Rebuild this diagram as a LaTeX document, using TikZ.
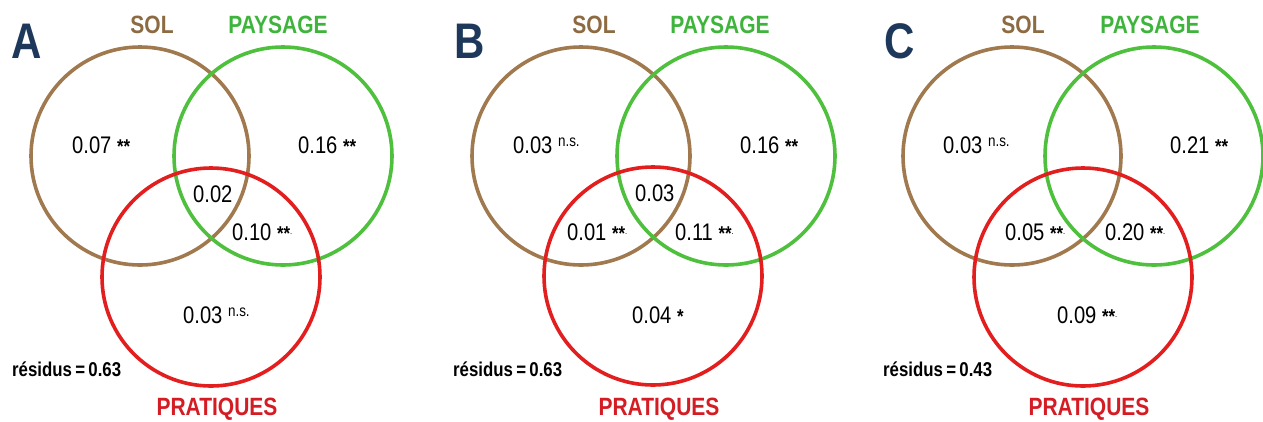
\documentclass[tikz,border=0pt]{standalone}
\usepackage{fontspec}
\newfontfamily\narrowsf[FakeStretch=0.84]{Liberation Sans}
\usetikzlibrary{positioning}
\definecolor{solbrown}{RGB}{160,122,78}
\definecolor{soltext}{RGB}{140,106,66}
\definecolor{paygreen}{RGB}{78,192,62}
\definecolor{paytext}{RGB}{62,180,60}
\definecolor{prared}{RGB}{226,30,30}
\definecolor{pratext}{RGB}{212,28,36}
\definecolor{navy}{RGB}{30,56,92}
\tikzset{
    set circle/.style={circle, draw, line width=3.6pt, minimum size=218pt, inner sep=0pt},
    set label/.style={font=\narrowsf\bfseries\fontsize{25}{25}\selectfont, anchor=base, inner sep=0pt},
    panel letter/.style={font=\narrowsf\bfseries\fontsize{50}{50}\selectfont, text=navy, anchor=base, inner sep=0pt},
    part value/.style={font=\narrowsf\fontsize{24}{24}\selectfont, anchor=base west, inner sep=0pt},
    residual/.style={font=\narrowsf\bfseries\fontsize{20}{20}\selectfont, anchor=base west, inner sep=0pt},
}
\newcommand{\stars}[1]{{\fontsize{20}{20}\selectfont\bfseries #1}}
\newcommand{\dotmark}{\raisebox{6pt}{\fontsize{9}{9}\selectfont .}}
\newcommand{\nsig}{\raisebox{7pt}{\fontsize{16}{16}\selectfont n.s.}}
\newcommand{\drawsets}{
    \foreach \p/\sx/\px/\rx/\ry in {A/140/283/211/277, B/581/726/653/276, C/1012/1154/1083/277} {
        \node[set circle, draw=solbrown] (sol\p) at (\sx,156) {};
        \node[set circle, draw=paygreen] (pay\p) at (\px,156) {};
        \node[set circle, draw=prared] (pra\p) at (\rx,\ry) {};
    }
}
\newcommand{\drawsetlabels}{
    \foreach \p/\lx/\slx/\plx/\qx in {A/27/152/278/217, B/470/594/720/659, C/900/1023/1150/1089} {
        \node[panel letter] (letter\p) at (\lx,58) {\p};
        \node[set label, text=soltext] (lsol\p) at (\slx,33) {SOL};
        \node[set label, text=paytext] (lpay\p) at (\plx,33) {PAYSAGE};
        \node[set label, text=pratext] (lpra\p) at (\qx,415) {PRATIQUES};
    }
}

\begin{document}
\begin{tikzpicture}[x=1pt, y=-1pt]
    \useasboundingbox (0,0) rectangle (1263,421);
    \drawsets
    \drawsetlabels
    % panel A
    \node[part value] (a1) at (72,153) {0.07 \stars{**}};
    \node[part value] (a2) at (298,153) {0.16 \stars{**}};
    \node[part value] (a3) at (193,202) {0.02};
    \node[part value] (a4) at (232,240) {0.10 \stars{**}\dotmark};
    \node[part value] (a5) at (183,323) {0.03 \nsig};
    \node[residual] (resA) at (12,376) {résidus\,=\,0.63};
    % panel B
    \node[part value] (b1) at (513,153) {0.03 \nsig};
    \node[part value] (b2) at (740,153) {0.16 \stars{**}};
    \node[part value] (b3) at (635,201) {0.03};
    \node[part value] (b4) at (567,240) {0.01 \stars{**}\dotmark};
    \node[part value] (b5) at (675,240) {0.11 \stars{**}\dotmark};
    \node[part value] (b6) at (632,323) {0.04 \stars{*}};
    \node[residual] (resB) at (453,376) {résidus\,=\,0.63};
    % panel C
    \node[part value] (c1) at (943,153) {0.03 \nsig};
    \node[part value] (c2) at (1170,153) {0.21 \stars{**}};
    \node[part value] (c3) at (1005,240) {0.05 \stars{**}\dotmark};
    \node[part value] (c4) at (1105,240) {0.20 \stars{**}\dotmark};
    \node[part value] (c5) at (1057,323) {0.09 \stars{**}\dotmark};
    \node[residual] (resC) at (883,376) {résidus\,=\,0.43};
\end{tikzpicture}
\end{document}
